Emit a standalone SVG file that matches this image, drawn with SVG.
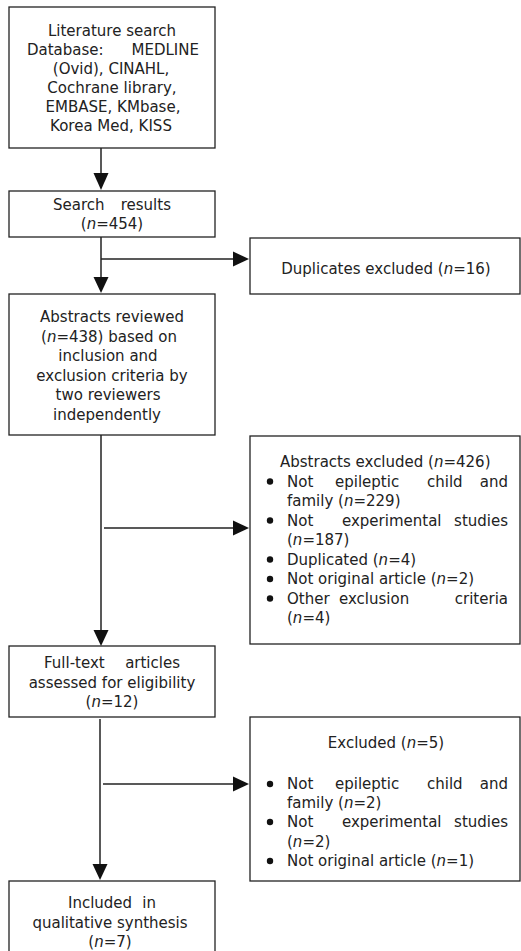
<svg xmlns="http://www.w3.org/2000/svg" width="521" height="951" viewBox="0 0 521 951">
<style>
  rect.box { fill: #fff; stroke: #222; stroke-width: 1.3; }
  text { font-family: "DejaVu Sans", "Liberation Sans", sans-serif; font-size: 15px; fill: #222; }
  .c { text-anchor: middle; }
  .e { text-anchor: end; }
  .i { font-style: italic; }
  .conn line { stroke: #222; stroke-width: 1.5; }
  .conn polygon { fill: #111; }
  circle.b { fill: #111; }
</style>
<rect width="521" height="951" fill="#fff"/>

<g id="connectors" class="conn">
  <line x1="101" y1="148" x2="101" y2="174"/>
  <polygon points="93.5,173 108.5,173 101,190"/>
  <line x1="101" y1="237" x2="101" y2="278"/>
  <polygon points="93.5,277 108.5,277 101,293"/>
  <line x1="101" y1="259" x2="234" y2="259"/>
  <polygon points="233,251.5 233,266.5 249,259"/>
  <line x1="101" y1="435" x2="101" y2="631"/>
  <polygon points="93.5,630 108.5,630 101,646"/>
  <line x1="104" y1="528" x2="234" y2="528"/>
  <polygon points="233,520.5 233,535.5 249,528"/>
  <line x1="100" y1="719" x2="100" y2="865"/>
  <polygon points="92.5,864 107.5,864 100,880"/>
  <line x1="103" y1="784" x2="234" y2="784"/>
  <polygon points="233,776.5 233,791.5 249,784"/>
</g>

<g id="n1">
  <rect class="box" x="9" y="7" width="206" height="141"/>
  <text class="c" x="112" y="36">Literature search</text>
  <text x="27" y="55">Database:</text>
  <text class="e" x="199" y="55">MEDLINE</text>
  <text class="c" x="111" y="74">(Ovid), CINAHL,</text>
  <text class="c" x="112" y="93">Cochrane library,</text>
  <text class="c" x="113" y="112">EMBASE, KMbase,</text>
  <text class="c" x="111" y="131">Korea Med, KISS</text>
</g>

<g id="n2">
  <rect class="box" x="9" y="191" width="206" height="46"/>
  <text x="53" y="210">Search</text>
  <text class="e" x="171" y="210">results</text>
  <text class="c" x="112" y="229">(<tspan class="i">n</tspan>=454)</text>
</g>

<g id="n3">
  <rect class="box" x="250" y="238" width="270" height="56"/>
  <text class="c" x="386" y="274">Duplicates excluded (<tspan class="i">n</tspan>=16)</text>
</g>

<g id="n4">
  <rect class="box" x="9" y="294" width="206" height="141"/>
  <text class="c" x="112" y="322">Abstracts reviewed</text>
  <text class="c" x="109" y="342">(<tspan class="i">n</tspan>=438) based on</text>
  <text class="c" x="108" y="361">inclusion and</text>
  <text class="c" x="112" y="381">exclusion criteria by</text>
  <text class="c" x="108" y="400">two reviewers</text>
  <text class="c" x="107" y="420">independently</text>
</g>

<g id="n5">
  <rect class="box" x="250" y="436" width="270" height="208"/>
  <text x="280" y="467">Abstracts excluded (<tspan class="i">n</tspan>=426)</text>
  <circle class="b" cx="270" cy="481.5" r="3.2"/>
  <text x="287" y="486.5">Not</text>
  <text x="335" y="486.5">epileptic</text>
  <text x="427" y="486.5">child</text>
  <text class="e" x="508" y="486.5">and</text>
  <text x="287" y="506">family (<tspan class="i">n</tspan>=229)</text>
  <circle class="b" cx="270" cy="520.5" r="3.2"/>
  <text x="287" y="525.5">Not</text>
  <text x="342" y="525.5">experimental</text>
  <text class="e" x="508" y="525.5">studies</text>
  <text x="287" y="545">(<tspan class="i">n</tspan>=187)</text>
  <circle class="b" cx="270" cy="559.5" r="3.2"/>
  <text x="287" y="564.5">Duplicated (<tspan class="i">n</tspan>=4)</text>
  <circle class="b" cx="270" cy="579" r="3.2"/>
  <text x="287" y="584">Not original article (<tspan class="i">n</tspan>=2)</text>
  <circle class="b" cx="270" cy="598.5" r="3.2"/>
  <text x="287" y="603.5">Other</text>
  <text x="339" y="603.5">exclusion</text>
  <text class="e" x="508" y="603.5">criteria</text>
  <text x="287" y="623">(<tspan class="i">n</tspan>=4)</text>
</g>

<g id="n6">
  <rect class="box" x="9" y="646" width="206" height="71"/>
  <text x="44" y="668">Full-text</text>
  <text class="e" x="180" y="668">articles</text>
  <text class="c" x="112" y="688">assessed for eligibility</text>
  <text class="c" x="112" y="707">(<tspan class="i">n</tspan>=12)</text>
</g>

<g id="n7">
  <rect class="box" x="250" y="717" width="270" height="164"/>
  <text class="c" x="386" y="748">Excluded (<tspan class="i">n</tspan>=5)</text>
  <circle class="b" cx="270" cy="784" r="3.2"/>
  <text x="287" y="789">Not</text>
  <text x="335" y="789">epileptic</text>
  <text x="427" y="789">child</text>
  <text class="e" x="508" y="789">and</text>
  <text x="287" y="808">family (<tspan class="i">n</tspan>=2)</text>
  <circle class="b" cx="270" cy="822" r="3.2"/>
  <text x="287" y="827">Not</text>
  <text x="342" y="827">experimental</text>
  <text class="e" x="508" y="827">studies</text>
  <text x="287" y="847">(<tspan class="i">n</tspan>=2)</text>
  <circle class="b" cx="270" cy="861" r="3.2"/>
  <text x="287" y="866">Not original article (<tspan class="i">n</tspan>=1)</text>
</g>

<g id="n8">
  <rect class="box" x="9" y="881" width="206" height="80"/>
  <text x="68" y="908">Included</text>
  <text class="e" x="156" y="908">in</text>
  <text class="c" x="110" y="928">qualitative synthesis</text>
  <text class="c" x="110" y="947">(<tspan class="i">n</tspan>=7)</text>
</g>
</svg>
